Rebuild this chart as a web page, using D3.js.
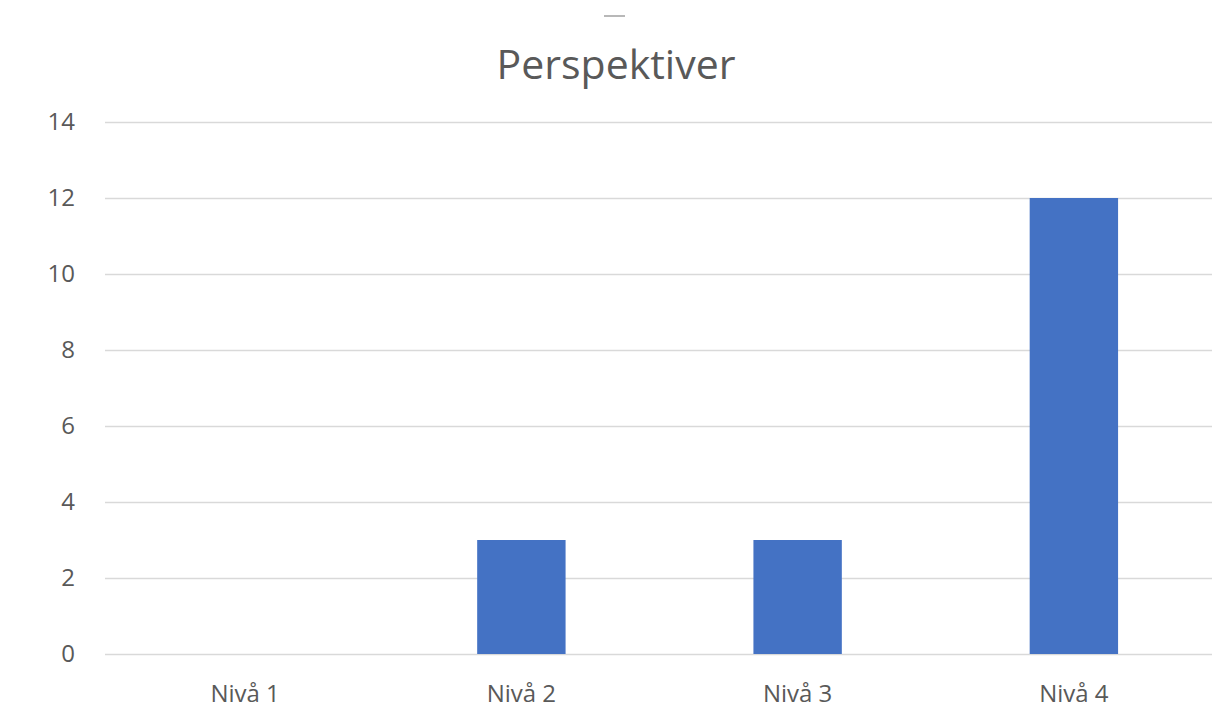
<!DOCTYPE html>
<html>
<head>
<meta charset="utf-8">
<script src="https://cdn.jsdelivr.net/npm/d3@7"></script>
<style>
  html, body { margin: 0; padding: 0; background: #fff; }
  svg { display: block; }
</style>
</head>
<body>
<svg id="chart" width="1214" height="728"></svg>
<script>
// Chart data
const categories = ["Nivå 1", "Nivå 2", "Nivå 3", "Nivå 4"];
const values = [0, 3, 3, 12];
const yTicks = [0, 2, 4, 6, 8, 10, 12, 14];
const title = "Perspektiver";

const W = 1214, H = 728;
const margin = { top: 122, right: 2, bottom: 74, left: 107 };
const font = "'Open Sans', 'Noto Sans', sans-serif";
const textColor = "#595959";
const gridColor = "#d9d9d9";
const barColor = "#4472C4";

const svg = d3.select("#chart");

const x = d3.scaleBand()
  .domain(categories)
  .range([margin.left, W - margin.right])
  .paddingInner(0.68)
  .paddingOuter(0.34);

const y = d3.scaleLinear()
  .domain([0, 14])
  .range([H - margin.bottom, margin.top]);

// small handle mark above the title
svg.append("line")
  .attr("x1", 604).attr("x2", 625)
  .attr("y1", 16).attr("y2", 16)
  .attr("stroke", "#b8b8b8").attr("stroke-width", 2);

// title
svg.append("text")
  .attr("x", 616).attr("y", 79)
  .attr("text-anchor", "middle")
  .attr("font-family", font)
  .attr("font-size", 41)
  .attr("fill", textColor)
  .text(title);

// y axis with gridlines
const yAxis = d3.axisLeft(y)
  .tickValues(yTicks)
  .tickSize(-(W - margin.right - 105))
  .tickPadding(30)
  .tickFormat(d3.format("d"));

const gy = svg.append("g")
  .attr("transform", `translate(105,0)`)
  .call(yAxis);
gy.select(".domain").remove();
gy.selectAll(".tick line")
  .attr("stroke", gridColor)
  .attr("stroke-width", 1.5);
gy.selectAll(".tick text")
  .attr("font-family", font)
  .attr("font-size", 24)
  .attr("fill", textColor);

// bars
svg.append("g")
  .selectAll("rect")
  .data(values)
  .join("rect")
  .attr("x", (d, i) => x(categories[i]))
  .attr("width", x.bandwidth())
  .attr("y", d => y(d))
  .attr("height", d => y(0) - y(d))
  .attr("fill", barColor);

// x axis labels
const xAxis = d3.axisBottom(x).tickSize(0).tickPadding(31);
const gx = svg.append("g")
  .attr("transform", `translate(0,${H - margin.bottom})`)
  .call(xAxis);
gx.select(".domain").remove();
gx.selectAll(".tick text")
  .attr("font-family", font)
  .attr("font-size", 24)
  .attr("fill", textColor);
</script>
</body>
</html>
